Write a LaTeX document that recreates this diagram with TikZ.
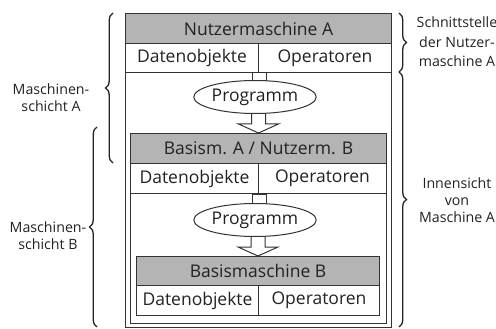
\documentclass[tikz,border=0pt]{standalone}
\usepackage{fontspec}
\setmainfont{Open Sans}
\usetikzlibrary{shapes.geometric,calc,decorations.pathreplacing}
\definecolor{ln}{HTML}{333333}
\definecolor{hdr}{HTML}{B4B4B4}
\definecolor{ink}{HTML}{222222}
\tikzset{
  cell/.style={draw=ln, line width=1pt, inner sep=0pt, anchor=north west,
    text=ink, font=\fontsize{17.5}{20}\selectfont},
  head/.style={cell, fill=hdr},
  frame/.style={draw=ln, line width=1pt, inner sep=0pt, anchor=north west},
  prog/.style={ellipse, draw=ln, line width=1pt, fill=white, inner sep=0pt,
    minimum width=100, minimum height=33, text=ink, font=\fontsize{17.5}{20}\selectfont},
  blk/.style={draw=ln, line width=1pt, fill=white, line join=miter},
  brc/.style={draw=ink, line width=1.3pt, decorate,
    decoration={brace, amplitude=7.5pt, raise=0pt}},
  side/.style={align=center, text=ink, font=\fontsize{14.2}{17}\selectfont}
}
\begin{document}
\begin{tikzpicture}[x=1pt, y=-1pt]
  \useasboundingbox (0,0) rectangle (496,329);

  % machine A (outer frame) and its interface
  \node[frame, minimum width=266, minimum height=314] (mA) at (125,13) {};
  \node[head, minimum width=266, minimum height=30] (hA) at (125,13) {Nutzermaschine A};
  \node[cell, minimum width=133, minimum height=29] (dA) at (125,43) {Datenobjekte};
  \node[cell, minimum width=133, minimum height=29] (oA) at (258,43) {Operatoren};

  % machine B frame and its interface
  \node[frame, minimum width=256, minimum height=190] (mB) at (130,133) {};
  \node[head, minimum width=256, minimum height=30] (hB) at (130,133) {Basism. A~/ Nutzerm. B};
  \node[cell, minimum width=128, minimum height=30] (dB) at (130,163) {Datenobjekte};
  \node[cell, minimum width=128, minimum height=30] (oB) at (258,163) {Operatoren};

  % base machine B
  \node[head, minimum width=243, minimum height=29] (hC) at (136,256) {Basismaschine B};
  \node[cell, minimum width=122, minimum height=30] (dC) at (136,285) {Datenobjekte};
  \node[cell, minimum width=121, minimum height=30] (oC) at (258,285) {Operatoren};

  % stems from the interfaces into the programs
  \draw[blk] ($(dA.south east)+(-7,0)$) rectangle ($(dA.south east)+(7,22)$);
  \draw[blk] ($(dB.south east)+(-7,0)$) rectangle ($(dB.south east)+(7,22)$);

  % hollow block arrows from the programs down to the next machine
  \draw[blk] ($(hB.north)+(-7,-32)$) -- ($(hB.north)+(-7,-9)$) -- ($(hB.north)+(-20,-9)$)
    -- (hB.north) -- ($(hB.north)+(20,-9)$) -- ($(hB.north)+(7,-9)$) -- ($(hB.north)+(7,-32)$);
  \draw[blk] ($(hC.north)+(-7,-32)$) -- ($(hC.north)+(-7,-9)$) -- ($(hC.north)+(-20,-9)$)
    -- (hC.north) -- ($(hC.north)+(20,-9)$) -- ($(hC.north)+(7,-9)$) -- ($(hC.north)+(7,-32)$);

  % programs
  \node[prog] (pA) at (255,97) {Programm};
  \node[prog] (pB) at (255,220) {Programm};

  % braces on the left
  \coordinate (lAt) at (113,13);
  \coordinate (lAb) at (113,163);
  \coordinate (lBt) at (97,127);
  \coordinate (lBb) at (97,327);
  \draw[brc] (lAb) -- (lAt);
  \draw[brc] (lBb) -- (lBt);
  \node[side] (tA) at (51,98) {Maschinen-\\schicht A};
  \node[side] (tB) at (48,236) {Maschinen-\\schicht B};

  % braces on the right
  \coordinate (rSt) at (399,13);
  \coordinate (rSb) at (399,72);
  \coordinate (rIt) at (399,72);
  \coordinate (rIb) at (399,327);
  \draw[brc] (rSt) -- (rSb);
  \draw[brc] (rIt) -- (rIb);
  \node[side, font=\fontsize{14.2}{19.5}\selectfont] (tS) at (457,42) {Schnittstelle\\der Nutzer-\\maschine A};
  \node[side] (tI) at (457,200) {Innensicht\\von\\Maschine A};
\end{tikzpicture}
\end{document}
